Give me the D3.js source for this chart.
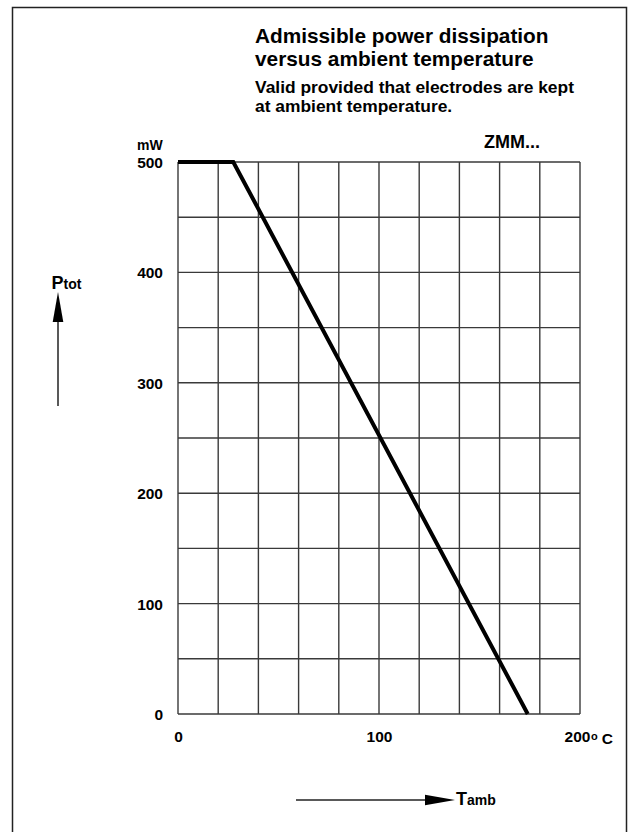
<!DOCTYPE html>
<html><head><meta charset="utf-8">
<script src="https://cdn.jsdelivr.net/npm/d3@7"></script>
<style>body{margin:0;background:#fff}svg{display:block}text{font-family:"Liberation Sans",Arial,sans-serif;font-weight:bold;fill:#000}</style>
</head><body><svg id="c" width="633" height="832"></svg>
<script>
const titleLines = ["Admissible power dissipation", "versus ambient temperature"];
const noteLines = ["Valid provided that electrodes are kept", "at ambient temperature."];
const seriesName = "ZMM...";
const tempC = [0, 27.5, 174];
const powerMW = [500, 500, 0];
const xTicks = [0, 100, 200];
const xGrid = [0, 20, 40, 60, 80, 100, 120, 140, 160, 180, 200];
const yTicks = [0, 100, 200, 300, 400, 500];
const yGrid = [0, 50, 100, 150, 200, 250, 300, 350, 400, 450, 500];

const svg = d3.select("#c");
const L = 178, R = 580, T = 162, B = 714;
const x = d3.scaleLinear().domain([0, 200]).range([L, R]);
const y = d3.scaleLinear().domain([0, 500]).range([B, T]);

// frame
svg.append("rect").attr("x", 12.5).attr("y", 7.5).attr("width", 614).attr("height", 830)
  .attr("fill", "none").attr("stroke", "#222").attr("stroke-width", 1.5);

// grid
const g = svg.append("g").attr("stroke", "#3a3a3a").attr("stroke-width", 1.4);
g.selectAll("line.v").data(xGrid).join("line").attr("class", "v")
  .attr("x1", d => x(d)).attr("x2", d => x(d)).attr("y1", T).attr("y2", B);
g.selectAll("line.h").data(yGrid).join("line").attr("class", "h")
  .attr("y1", d => y(d)).attr("y2", d => y(d)).attr("x1", L).attr("x2", R);

// axes labels via d3 axes
const ya = d3.axisLeft(y).tickValues(yTicks).tickSize(0).tickPadding(15).tickFormat(d3.format("d"));
const yg = svg.append("g").attr("transform", `translate(${L},0)`).call(ya);
yg.select(".domain").remove();
yg.selectAll("text").attr("font-size", 15.5).attr("font-family", "Liberation Sans, Arial, sans-serif").attr("font-weight", "bold").attr("dy", "0.35em");

const xa = d3.axisBottom(x).tickValues(xTicks).tickSize(0).tickPadding(17).tickFormat(d3.format("d"));
const xg = svg.append("g").attr("transform", `translate(0,${B})`).call(xa);
xg.select(".domain").remove();
xg.selectAll("text").attr("font-size", 15.5).attr("font-family", "Liberation Sans, Arial, sans-serif").attr("font-weight", "bold")
  .attr("dx", d => d === 200 ? -3 : 0);
const deg = svg.append("text").attr("x", x(200) + 11).attr("y", B + 30).attr("font-size", 15.5);
deg.append("tspan").attr("font-size", 11).attr("dy", -4).text("o");
deg.append("tspan").attr("dy", 4).attr("dx", 4).text("C");

// curve
const line = d3.line().x((d, i) => x(tempC[i])).y((d, i) => y(powerMW[i]));
svg.append("path").datum(tempC).attr("d", line).attr("fill", "none")
  .attr("stroke", "#000").attr("stroke-width", 4).attr("stroke-linejoin", "miter");

// titles
svg.append("text").attr("x", 255).attr("y", 43).attr("font-size", 20.8).text(titleLines[0]);
svg.append("text").attr("x", 255).attr("y", 66).attr("font-size", 20.8).text(titleLines[1]);
svg.append("text").attr("x", 255).attr("y", 93).attr("font-size", 17.4).text(noteLines[0]);
svg.append("text").attr("x", 255).attr("y", 112).attr("font-size", 17.4).text(noteLines[1]);
svg.append("text").attr("x", 484).attr("y", 148).attr("font-size", 18).text(seriesName);
svg.append("text").attr("x", 137).attr("y", 150).attr("font-size", 14).text("mW");

// Ptot
const pt = svg.append("text").attr("x", 51.5).attr("y", 289).attr("font-size", 18);
pt.append("tspan").text("P");
pt.append("tspan").attr("font-size", 14).text("tot");
svg.append("line").attr("x1", 58).attr("x2", 58).attr("y1", 406).attr("y2", 315).attr("stroke", "#222").attr("stroke-width", 1.5);
svg.append("path").attr("d", "M58,292 L52.7,322 L63.3,322 Z").attr("fill", "#000");

// Tamb
svg.append("line").attr("x1", 296).attr("x2", 430).attr("y1", 800).attr("y2", 800).attr("stroke", "#222").attr("stroke-width", 1.5);
svg.append("path").attr("d", "M455,800 L425,794.7 L425,805.3 Z").attr("fill", "#000");
const ta = svg.append("text").attr("x", 456).attr("y", 805).attr("font-size", 18);
ta.append("tspan").text("T");
ta.append("tspan").attr("font-size", 14).text("amb");
</script></body></html>
